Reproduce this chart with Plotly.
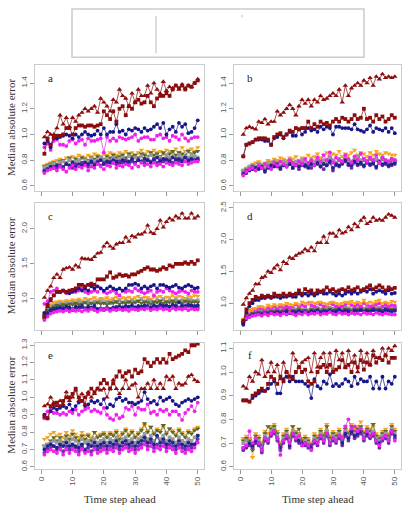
import plotly.graph_objects as go

# ---------------- data ----------------
tick_steps = [0, 10, 20, 30, 40, 50]

# Panel a
a_tri = [0.98,1.02,1.00,1.00,1.05,1.15,1.08,1.13,1.06,1.13,1.10,1.15,1.17,1.20,1.18,1.20,1.22,1.17,1.28,1.25,1.22,1.18,1.27,1.25,1.35,1.30,1.28,1.22,1.32,1.25,1.35,1.30,1.30,1.38,1.32,1.40,1.35,1.32,1.41,1.34,1.37,1.36,1.38,1.35,1.39,1.36,1.38,1.37,1.40,1.43]
a_sq = [0.85,0.97,0.92,0.98,0.99,0.99,1.00,1.05,1.05,1.00,1.05,1.07,1.07,1.06,1.07,1.07,1.06,1.07,1.08,1.18,1.15,1.12,1.18,1.10,1.20,1.22,1.15,1.22,1.20,1.25,1.27,1.24,1.25,1.30,1.25,1.22,1.28,1.30,1.30,1.32,1.30,1.35,1.38,1.36,1.38,1.35,1.38,1.37,1.40,1.42]
a_navy = [0.93,0.95,0.90,0.97,0.97,0.98,0.99,1.00,0.99,0.97,1.00,0.98,1.00,1.02,1.00,0.99,1.00,1.03,1.00,1.05,1.00,1.02,1.02,1.08,1.02,1.03,1.00,1.04,1.03,1.05,1.04,1.02,1.05,1.03,1.04,1.06,1.08,1.05,1.09,1.00,1.04,1.06,1.02,1.09,1.06,1.08,1.01,1.02,1.05,1.11]
a_mag = [0.90,0.93,0.88,0.95,0.96,0.92,0.92,0.91,0.95,0.96,0.93,0.95,0.96,0.92,0.97,0.95,0.95,0.96,0.97,0.86,0.98,0.95,0.97,0.95,0.98,0.97,0.96,0.97,0.98,1.00,0.95,0.97,0.98,0.98,0.96,0.96,0.99,1.00,0.97,0.98,0.95,0.99,0.98,0.96,1.00,0.97,0.95,0.97,0.98,0.98]
a_orange = [0.76,0.77,0.78,0.79,0.80,0.81,0.80,0.82,0.81,0.83,0.82,0.84,0.83,0.82,0.84,0.83,0.85,0.84,0.83,0.85,0.84,0.86,0.85,0.84,0.86,0.85,0.87,0.85,0.86,0.84,0.86,0.88,0.85,0.87,0.86,0.88,0.86,0.87,0.85,0.88,0.87,0.86,0.89,0.86,0.90,0.87,0.88,0.89,0.87,0.90]
a_olive = [0.75,0.76,0.77,0.78,0.77,0.79,0.80,0.78,0.82,0.79,0.81,0.80,0.82,0.81,0.80,0.82,0.81,0.83,0.82,0.81,0.83,0.82,0.84,0.82,0.83,0.84,0.82,0.85,0.83,0.84,0.82,0.85,0.84,0.83,0.86,0.84,0.85,0.83,0.86,0.84,0.85,0.87,0.84,0.86,0.85,0.84,0.87,0.85,0.86,0.87]
a_gray = [0.74,0.75,0.76,0.77,0.76,0.78,0.79,0.77,0.80,0.78,0.79,0.80,0.78,0.80,0.79,0.81,0.79,0.80,0.82,0.80,0.81,0.79,0.82,0.80,0.81,0.82,0.80,0.83,0.81,0.82,0.80,0.83,0.81,0.82,0.84,0.81,0.83,0.82,0.81,0.84,0.82,0.83,0.81,0.84,0.82,0.83,0.82,0.84,0.83,0.82]
a_purple = [0.72,0.73,0.74,0.75,0.74,0.76,0.75,0.77,0.76,0.74,0.77,0.76,0.78,0.77,0.75,0.78,0.77,0.79,0.76,0.78,0.77,0.79,0.78,0.77,0.79,0.78,0.80,0.77,0.79,0.78,0.80,0.79,0.78,0.80,0.79,0.81,0.78,0.80,0.79,0.81,0.80,0.78,0.81,0.79,0.80,0.82,0.79,0.81,0.80,0.80]
a_navy2 = [0.71,0.73,0.75,0.74,0.76,0.75,0.74,0.77,0.76,0.78,0.75,0.77,0.76,0.78,0.77,0.79,0.76,0.78,0.80,0.77,0.79,0.78,0.80,0.79,0.77,0.80,0.78,0.79,0.81,0.78,0.80,0.79,0.81,0.80,0.78,0.80,0.82,0.79,0.81,0.80,0.79,0.82,0.80,0.81,0.79,0.82,0.80,0.81,0.80,0.81]
a_mag2 = [0.70,0.72,0.73,0.74,0.72,0.75,0.73,0.71,0.74,0.76,0.73,0.75,0.74,0.76,0.72,0.75,0.74,0.77,0.75,0.73,0.76,0.75,0.78,0.74,0.76,0.75,0.77,0.76,0.74,0.77,0.75,0.78,0.76,0.77,0.75,0.78,0.76,0.77,0.75,0.78,0.77,0.76,0.78,0.77,0.76,0.79,0.77,0.78,0.79,0.79]

# Panel b
b_tri = [1.00,1.05,1.06,1.05,1.04,1.10,1.09,1.12,1.08,1.10,1.10,1.18,1.15,1.17,1.20,1.23,1.20,1.15,1.22,1.27,1.24,1.27,1.22,1.27,1.25,1.30,1.27,1.28,1.30,1.32,1.30,1.35,1.25,1.38,1.30,1.36,1.38,1.40,1.38,1.42,1.40,1.44,1.38,1.45,1.43,1.47,1.44,1.45,1.44,1.45]
b_sq = [0.83,0.92,0.93,0.94,0.96,0.97,0.97,0.97,0.96,0.92,0.98,1.00,1.01,0.98,1.00,1.03,1.02,1.05,1.04,1.05,1.05,1.10,1.05,1.08,1.06,1.10,1.08,1.09,1.07,1.10,1.12,1.10,1.13,1.12,1.10,1.12,1.15,1.12,1.13,1.20,1.12,1.13,1.10,1.15,1.12,1.14,1.10,1.12,1.15,1.13]
b_navy = [0.83,0.92,0.93,0.94,0.96,0.96,0.96,0.95,0.95,0.92,0.97,0.98,1.00,0.97,1.00,1.02,0.99,0.99,1.04,1.00,1.02,1.05,1.03,1.04,1.02,1.06,1.04,1.06,1.05,1.00,1.06,1.06,1.05,1.05,1.05,1.04,1.08,1.04,1.03,1.02,1.04,1.07,1.02,1.05,1.04,1.03,1.05,1.02,1.05,1.01]
b_orange = [0.72,0.74,0.75,0.77,0.78,0.79,0.77,0.78,0.80,0.79,0.81,0.80,0.82,0.81,0.80,0.82,0.81,0.83,0.80,0.82,0.81,0.84,0.82,0.83,0.85,0.82,0.84,0.86,0.83,0.85,0.84,0.87,0.83,0.85,0.84,0.86,0.88,0.84,0.86,0.85,0.83,0.86,0.84,0.87,0.85,0.84,0.86,0.85,0.84,0.84]
b_mag = [0.68,0.71,0.73,0.74,0.72,0.76,0.74,0.77,0.75,0.73,0.78,0.76,0.79,0.77,0.75,0.80,0.78,0.76,0.79,0.77,0.81,0.78,0.80,0.76,0.82,0.79,0.84,0.80,0.86,0.78,0.82,0.80,0.79,0.84,0.81,0.78,0.83,0.80,0.85,0.81,0.79,0.82,0.80,0.84,0.78,0.82,0.80,0.79,0.81,0.80]
b_gray = [0.72,0.73,0.75,0.76,0.75,0.77,0.76,0.74,0.78,0.77,0.79,0.78,0.76,0.79,0.78,0.80,0.77,0.79,0.78,0.80,0.79,0.77,0.80,0.79,0.81,0.78,0.80,0.79,0.82,0.80,0.78,0.81,0.79,0.82,0.80,0.79,0.81,0.83,0.80,0.81,0.79,0.82,0.80,0.81,0.79,0.82,0.80,0.79,0.81,0.80]
b_olive = [0.71,0.73,0.74,0.76,0.75,0.77,0.75,0.73,0.77,0.76,0.78,0.77,0.75,0.78,0.77,0.79,0.76,0.78,0.77,0.79,0.78,0.76,0.79,0.78,0.80,0.77,0.79,0.78,0.81,0.79,0.77,0.80,0.78,0.81,0.79,0.78,0.80,0.82,0.79,0.80,0.78,0.81,0.79,0.80,0.78,0.81,0.79,0.78,0.80,0.79]
b_navy2 = [0.69,0.70,0.72,0.73,0.74,0.73,0.75,0.71,0.74,0.76,0.75,0.77,0.74,0.76,0.75,0.77,0.74,0.76,0.75,0.77,0.76,0.74,0.77,0.76,0.78,0.75,0.77,0.76,0.79,0.74,0.77,0.76,0.78,0.80,0.77,0.76,0.79,0.77,0.78,0.76,0.79,0.77,0.78,0.75,0.79,0.77,0.78,0.76,0.77,0.78]
b_purple = [0.70,0.72,0.73,0.75,0.73,0.75,0.74,0.72,0.75,0.74,0.76,0.75,0.73,0.76,0.75,0.77,0.74,0.76,0.73,0.76,0.75,0.77,0.74,0.76,0.77,0.75,0.73,0.76,0.78,0.72,0.76,0.75,0.77,0.79,0.76,0.74,0.78,0.76,0.77,0.75,0.78,0.76,0.77,0.74,0.78,0.76,0.77,0.75,0.76,0.77]

# Panel c
c_tri = [1.02,1.12,1.18,1.30,1.35,1.30,1.42,1.44,1.45,1.42,1.48,1.45,1.58,1.57,1.57,1.56,1.60,1.65,1.66,1.75,1.80,1.75,1.72,1.78,1.80,1.80,1.88,1.82,1.90,1.88,1.92,1.92,1.95,2.05,1.95,1.93,2.00,2.12,2.02,2.10,2.15,2.12,2.18,2.15,2.22,2.15,2.15,2.22,2.15,2.18]
c_sq = [0.75,0.90,0.98,1.05,1.10,1.10,1.12,1.10,1.12,1.13,1.15,1.20,1.20,1.18,1.20,1.22,1.20,1.28,1.28,1.28,1.32,1.38,1.30,1.32,1.35,1.33,1.34,1.32,1.35,1.35,1.38,1.40,1.43,1.45,1.42,1.42,1.40,1.42,1.45,1.43,1.48,1.46,1.50,1.50,1.50,1.52,1.50,1.53,1.50,1.55]
c_navy = [0.80,0.92,1.00,1.05,1.10,1.10,1.12,1.10,1.08,1.10,1.12,1.15,1.12,1.15,1.12,1.18,1.15,1.18,1.15,1.12,1.15,1.18,1.15,1.13,1.15,1.12,1.15,1.20,1.20,1.22,1.20,1.15,1.18,1.15,1.18,1.20,1.15,1.20,1.20,1.18,1.16,1.18,1.20,1.16,1.15,1.18,1.20,1.18,1.15,1.16]
c_mag = [0.93,0.97,1.10,1.12,1.15,1.10,1.12,1.08,1.10,1.12,1.10,1.12,1.15,1.10,1.08,1.10,1.12,1.10,1.15,1.10,1.08,1.10,1.12,1.08,1.05,1.12,1.10,1.12,1.10,1.15,1.12,1.10,1.08,1.10,1.12,1.05,1.10,1.12,1.10,1.15,1.12,1.10,1.08,1.10,1.12,1.10,1.08,1.12,1.10,1.10]
c_orange = [0.80,0.88,0.92,0.95,0.96,0.97,0.96,0.98,0.97,0.99,0.98,1.00,0.98,1.01,0.99,1.00,1.02,0.99,1.01,1.00,1.02,0.99,1.01,1.03,1.00,1.02,1.01,1.03,1.00,1.02,1.04,1.01,1.03,1.02,1.00,1.03,1.02,1.04,1.01,1.03,1.02,1.05,1.02,1.04,1.03,1.01,1.04,1.03,1.05,1.04]
c_gray = [0.78,0.85,0.88,0.90,0.92,0.93,0.92,0.94,0.93,0.95,0.94,0.96,0.94,0.95,0.97,0.94,0.96,0.95,0.97,0.95,0.96,0.94,0.97,0.96,0.98,0.95,0.97,0.96,0.98,0.96,0.97,0.99,0.96,0.98,0.97,0.95,0.98,0.97,0.99,0.96,0.98,0.97,0.99,0.97,0.98,0.96,0.99,0.98,0.97,0.98]
c_olive = [0.76,0.84,0.87,0.89,0.91,0.90,0.92,0.91,0.93,0.92,0.94,0.92,0.93,0.95,0.92,0.94,0.93,0.95,0.93,0.94,0.92,0.95,0.94,0.96,0.93,0.95,0.94,0.96,0.94,0.95,0.97,0.94,0.96,0.95,0.93,0.96,0.95,0.97,0.94,0.96,0.95,0.97,0.95,0.96,0.94,0.97,0.96,0.95,0.96,0.95]
c_navy2 = [0.74,0.80,0.84,0.86,0.87,0.88,0.87,0.89,0.88,0.86,0.89,0.88,0.90,0.87,0.89,0.88,0.90,0.86,0.85,0.84,0.86,0.85,0.88,0.87,0.89,0.88,0.90,0.89,0.91,0.88,0.90,0.89,0.91,0.90,0.88,0.91,0.89,0.92,0.90,0.91,0.89,0.92,0.90,0.95,0.91,0.90,0.92,0.91,0.90,0.91]
c_purple = [0.72,0.78,0.82,0.84,0.85,0.86,0.85,0.87,0.86,0.84,0.87,0.86,0.88,0.85,0.87,0.86,0.88,0.85,0.87,0.86,0.88,0.86,0.87,0.89,0.86,0.88,0.87,0.89,0.86,0.88,0.87,0.89,0.87,0.88,0.86,0.89,0.87,0.88,0.90,0.87,0.89,0.88,0.90,0.88,0.89,0.87,0.90,0.88,0.89,0.88]
c_mag2 = [0.70,0.75,0.79,0.81,0.82,0.83,0.82,0.84,0.82,0.85,0.83,0.84,0.82,0.85,0.83,0.86,0.84,0.82,0.85,0.84,0.86,0.83,0.85,0.84,0.86,0.84,0.85,0.83,0.86,0.85,0.84,0.86,0.85,0.87,0.84,0.86,0.85,0.87,0.85,0.86,0.84,0.87,0.85,0.86,0.85,0.87,0.84,0.86,0.85,0.85]

# Panel d
d_tri = [0.98,1.08,1.15,1.20,1.30,1.30,1.40,1.42,1.50,1.48,1.55,1.60,1.52,1.65,1.62,1.72,1.70,1.75,1.78,1.80,1.85,1.82,1.88,1.82,1.95,1.95,2.05,1.95,2.10,2.10,2.05,2.15,2.10,2.12,2.20,2.15,2.25,2.20,2.30,2.35,2.25,2.28,2.35,2.30,2.32,2.30,2.35,2.40,2.38,2.35]
d_sq = [0.72,0.90,1.00,1.05,1.10,1.08,1.12,1.10,1.12,1.10,1.15,1.12,1.12,1.15,1.12,1.15,1.13,1.15,1.20,1.15,1.22,1.18,1.20,1.15,1.20,1.18,1.20,1.25,1.20,1.22,1.18,1.20,1.22,1.20,1.25,1.20,1.22,1.25,1.20,1.22,1.25,1.28,1.22,1.25,1.28,1.25,1.20,1.25,1.22,1.24]
d_navy = [0.68,0.85,0.95,1.00,1.05,1.05,1.08,1.08,1.10,1.08,1.10,1.10,1.08,1.10,1.10,1.12,1.10,1.10,1.15,1.12,1.15,1.12,1.15,1.12,1.15,1.18,1.15,1.15,1.18,1.15,1.12,1.15,1.12,1.15,1.18,1.15,1.18,1.15,1.18,1.20,1.18,1.22,1.15,1.18,1.20,1.18,1.15,1.20,1.15,1.16]
d_orange = [0.75,0.85,0.88,0.90,0.92,0.95,0.95,0.93,0.97,0.95,0.98,0.96,0.98,0.97,1.00,0.98,0.97,1.00,0.98,1.02,1.00,0.99,1.02,1.00,1.00,1.02,1.00,0.98,1.00,1.02,1.00,0.98,1.00,1.02,1.00,1.03,1.00,1.02,1.00,1.05,1.00,1.02,1.00,1.03,1.05,1.00,1.02,1.00,1.03,1.02]
d_mag = [0.72,0.82,0.88,0.90,0.90,0.92,0.92,0.90,0.93,0.92,0.95,0.92,0.95,0.93,0.95,0.93,0.95,0.98,0.95,0.97,0.95,1.00,0.97,0.95,1.00,0.98,0.95,0.97,1.00,0.98,0.95,0.97,0.95,0.98,1.00,0.97,0.95,0.98,0.95,1.00,0.98,0.95,0.97,0.98,1.00,0.95,0.98,0.95,0.97,0.96]
d_gray = [0.72,0.80,0.84,0.86,0.87,0.88,0.87,0.89,0.88,0.90,0.89,0.91,0.89,0.90,0.92,0.89,0.91,0.90,0.92,0.90,0.91,0.89,0.92,0.91,0.93,0.90,0.92,0.91,0.93,0.91,0.92,0.94,0.91,0.93,0.92,0.90,0.93,0.92,0.94,0.91,0.93,0.92,0.94,0.92,0.93,0.91,0.94,0.93,0.92,0.93]
d_olive = [0.70,0.79,0.82,0.84,0.85,0.86,0.85,0.87,0.86,0.88,0.87,0.89,0.87,0.88,0.90,0.87,0.89,0.88,0.90,0.88,0.89,0.87,0.90,0.89,0.91,0.88,0.90,0.89,0.91,0.89,0.90,0.92,0.89,0.91,0.90,0.88,0.91,0.90,0.92,0.89,0.91,0.90,0.92,0.90,0.91,0.89,0.92,0.91,0.90,0.91]
d_navy2 = [0.66,0.75,0.79,0.81,0.82,0.83,0.82,0.84,0.83,0.85,0.84,0.86,0.84,0.85,0.87,0.84,0.86,0.85,0.87,0.85,0.86,0.84,0.87,0.86,0.88,0.85,0.87,0.86,0.88,0.86,0.87,0.89,0.86,0.88,0.87,0.85,0.88,0.87,0.89,0.86,0.88,0.87,0.89,0.87,0.88,0.86,0.89,0.88,0.87,0.88]
d_purple = [0.68,0.77,0.80,0.82,0.83,0.84,0.83,0.85,0.84,0.86,0.85,0.87,0.85,0.86,0.88,0.85,0.87,0.86,0.88,0.86,0.87,0.85,0.88,0.87,0.89,0.86,0.88,0.87,0.89,0.87,0.88,0.90,0.87,0.89,0.88,0.86,0.89,0.88,0.90,0.87,0.89,0.88,0.90,0.88,0.89,0.87,0.90,0.89,0.88,0.89]
d_mag2 = [0.70,0.76,0.78,0.80,0.81,0.82,0.80,0.83,0.81,0.84,0.82,0.83,0.81,0.84,0.82,0.85,0.83,0.81,0.84,0.82,0.85,0.82,0.84,0.83,0.85,0.82,0.84,0.83,0.86,0.83,0.82,0.85,0.83,0.84,0.82,0.85,0.83,0.84,0.82,0.85,0.83,0.84,0.82,0.85,0.83,0.82,0.84,0.83,0.82,0.82]

# Panel e
e_sq = [0.89,0.88,0.95,0.96,0.97,0.95,0.98,1.00,1.00,1.02,1.05,1.00,0.98,1.00,1.02,1.05,1.03,1.05,1.08,1.10,1.08,1.05,1.08,1.12,1.15,1.12,1.14,1.15,1.12,1.16,1.14,1.15,1.22,1.20,1.18,1.20,1.22,1.20,1.22,1.20,1.25,1.22,1.23,1.24,1.25,1.27,1.26,1.30,1.30,1.31]
e_tri = [0.95,0.96,1.00,0.97,0.95,0.98,0.96,1.03,0.98,1.00,1.04,0.98,1.02,0.96,1.03,1.00,1.02,1.05,1.04,1.05,1.00,1.05,1.10,1.05,1.02,1.05,1.10,1.05,1.07,1.08,1.00,1.05,1.05,1.08,1.05,1.10,1.05,1.08,1.05,1.12,1.10,1.12,1.05,1.08,1.07,1.08,1.12,1.13,1.10,1.09]
e_navy = [0.90,0.88,0.92,0.94,0.93,0.94,0.95,0.94,0.96,0.93,0.95,0.97,0.98,0.95,0.96,0.98,0.97,0.98,0.96,0.99,0.94,0.96,0.95,0.99,1.00,0.98,0.99,0.97,0.97,0.96,0.97,0.98,1.03,0.99,0.97,0.98,0.96,1.00,0.98,0.99,1.00,0.98,0.96,0.95,0.97,0.98,0.99,0.98,0.99,1.00]
e_mag = [0.88,0.92,0.93,0.91,0.91,0.90,0.91,0.90,0.92,0.91,0.93,0.90,0.92,0.93,0.94,0.92,0.93,0.92,0.91,0.94,0.90,0.88,0.87,0.90,0.88,0.89,0.94,0.93,0.95,0.90,0.94,0.93,0.93,0.96,0.91,0.92,0.90,0.93,0.92,0.93,0.90,0.92,0.92,0.90,0.87,0.91,0.93,0.95,0.92,0.97]
e_orange = [0.76,0.77,0.79,0.80,0.78,0.79,0.77,0.80,0.78,0.81,0.79,0.77,0.80,0.78,0.79,0.77,0.80,0.78,0.79,0.80,0.78,0.80,0.79,0.81,0.78,0.80,0.82,0.79,0.81,0.78,0.80,0.82,0.84,0.81,0.83,0.80,0.82,0.81,0.83,0.80,0.82,0.81,0.79,0.82,0.80,0.78,0.81,0.80,0.82,0.83]
e_olive = [0.72,0.73,0.75,0.77,0.75,0.77,0.74,0.78,0.76,0.79,0.77,0.75,0.78,0.76,0.78,0.75,0.80,0.77,0.78,0.79,0.77,0.79,0.78,0.80,0.76,0.79,0.81,0.78,0.80,0.77,0.79,0.81,0.85,0.80,0.83,0.79,0.81,0.80,0.84,0.79,0.82,0.80,0.78,0.81,0.79,0.77,0.80,0.79,0.81,0.82]
e_gray = [0.72,0.73,0.74,0.75,0.74,0.75,0.73,0.76,0.74,0.76,0.75,0.73,0.76,0.74,0.75,0.73,0.76,0.74,0.75,0.76,0.74,0.76,0.75,0.77,0.74,0.76,0.77,0.75,0.76,0.74,0.76,0.77,0.79,0.76,0.78,0.75,0.77,0.76,0.78,0.75,0.77,0.76,0.74,0.77,0.75,0.74,0.76,0.75,0.77,0.78]
e_navy2 = [0.70,0.72,0.73,0.72,0.71,0.73,0.72,0.74,0.72,0.73,0.72,0.71,0.73,0.69,0.73,0.72,0.74,0.72,0.73,0.74,0.72,0.74,0.73,0.75,0.72,0.74,0.75,0.73,0.74,0.72,0.74,0.75,0.77,0.74,0.76,0.73,0.78,0.74,0.76,0.73,0.75,0.74,0.72,0.75,0.73,0.72,0.74,0.73,0.73,0.78]
e_purple = [0.68,0.70,0.71,0.72,0.70,0.71,0.69,0.72,0.70,0.72,0.71,0.69,0.72,0.70,0.71,0.69,0.72,0.70,0.71,0.72,0.70,0.72,0.71,0.73,0.70,0.72,0.73,0.71,0.72,0.70,0.72,0.73,0.75,0.72,0.74,0.71,0.73,0.72,0.74,0.71,0.73,0.72,0.70,0.73,0.71,0.70,0.72,0.71,0.73,0.76]
e_mag2 = [0.67,0.69,0.70,0.69,0.68,0.70,0.67,0.70,0.68,0.70,0.69,0.67,0.70,0.68,0.69,0.67,0.70,0.68,0.69,0.70,0.68,0.70,0.69,0.71,0.68,0.70,0.71,0.69,0.70,0.68,0.70,0.71,0.73,0.70,0.72,0.69,0.71,0.70,0.72,0.69,0.71,0.70,0.68,0.71,0.69,0.68,0.70,0.69,0.71,0.74]

# Panel f
f_tri = [0.94,0.93,0.98,0.96,1.00,0.99,1.05,0.98,1.00,1.04,1.00,1.03,0.97,1.04,1.00,0.98,1.08,1.05,1.02,1.04,1.05,1.06,1.00,1.08,1.02,1.06,1.08,1.02,1.08,1.00,1.09,1.05,1.08,1.02,1.09,1.04,1.07,1.00,1.09,1.04,1.08,1.03,1.09,1.06,1.06,1.10,1.07,1.10,1.09,1.11]
f_sq = [0.88,0.88,0.875,0.90,0.91,0.92,0.93,0.92,0.95,0.98,0.97,0.95,0.98,0.96,1.00,0.98,0.97,1.00,1.02,1.00,1.01,0.96,0.95,0.96,1.00,1.02,1.03,1.00,1.03,1.00,1.01,1.02,1.05,1.02,1.03,1.00,1.04,1.02,1.05,1.01,1.04,1.03,1.07,1.04,1.06,1.05,1.07,1.04,1.06,1.06]
f_navy = [0.88,0.88,0.875,0.89,0.90,0.91,0.92,0.92,0.93,0.95,0.96,0.91,0.91,0.97,0.98,0.96,0.98,0.96,0.96,0.96,0.95,0.94,0.89,0.97,0.94,0.93,0.96,0.95,0.99,0.94,0.95,0.94,0.95,0.97,0.96,0.94,0.98,0.95,0.97,0.96,0.96,0.98,0.93,0.96,0.93,0.98,0.93,0.96,0.95,0.98]
f_orange = [0.72,0.73,0.72,0.64,0.74,0.73,0.70,0.75,0.74,0.77,0.78,0.75,0.70,0.74,0.76,0.73,0.77,0.75,0.74,0.72,0.73,0.72,0.70,0.74,0.73,0.76,0.74,0.78,0.73,0.75,0.74,0.76,0.73,0.77,0.75,0.78,0.76,0.77,0.79,0.75,0.77,0.76,0.77,0.74,0.73,0.75,0.76,0.74,0.78,0.76]
f_olive = [0.71,0.72,0.71,0.67,0.73,0.72,0.69,0.74,0.77,0.76,0.77,0.74,0.69,0.73,0.75,0.72,0.77,0.74,0.76,0.71,0.72,0.71,0.69,0.73,0.72,0.75,0.73,0.77,0.72,0.74,0.73,0.75,0.72,0.76,0.74,0.77,0.75,0.76,0.77,0.74,0.76,0.75,0.78,0.73,0.72,0.74,0.75,0.73,0.77,0.75]
f_gray = [0.70,0.71,0.70,0.68,0.72,0.71,0.68,0.73,0.72,0.75,0.76,0.73,0.68,0.72,0.74,0.71,0.75,0.73,0.72,0.70,0.71,0.70,0.68,0.72,0.71,0.74,0.72,0.75,0.71,0.73,0.72,0.74,0.71,0.75,0.73,0.76,0.74,0.75,0.76,0.73,0.75,0.74,0.75,0.72,0.71,0.73,0.74,0.72,0.76,0.74]
f_mag = [0.68,0.69,0.75,0.70,0.72,0.70,0.67,0.72,0.71,0.74,0.75,0.72,0.65,0.71,0.73,0.70,0.74,0.72,0.73,0.69,0.70,0.69,0.67,0.71,0.70,0.73,0.71,0.74,0.70,0.72,0.71,0.73,0.72,0.77,0.80,0.76,0.77,0.75,0.76,0.72,0.75,0.73,0.74,0.71,0.69,0.72,0.73,0.71,0.75,0.71]
f_navy2 = [0.68,0.69,0.70,0.69,0.71,0.70,0.67,0.72,0.71,0.74,0.75,0.72,0.68,0.71,0.73,0.69,0.74,0.72,0.71,0.70,0.70,0.69,0.68,0.71,0.70,0.73,0.71,0.74,0.70,0.72,0.71,0.73,0.70,0.74,0.72,0.75,0.73,0.74,0.75,0.72,0.74,0.73,0.74,0.71,0.70,0.72,0.73,0.71,0.75,0.73]
f_purple = [0.67,0.68,0.69,0.68,0.70,0.69,0.66,0.71,0.70,0.73,0.74,0.71,0.67,0.70,0.72,0.68,0.73,0.71,0.70,0.69,0.69,0.68,0.69,0.70,0.69,0.72,0.70,0.73,0.69,0.71,0.70,0.72,0.69,0.73,0.71,0.74,0.72,0.73,0.74,0.71,0.73,0.72,0.73,0.70,0.68,0.71,0.72,0.70,0.74,0.72]

y_ticks = {
    "a": [0.6, 0.8, 1.0, 1.2, 1.4],
    "b": [0.6, 0.8, 1.0, 1.2, 1.4],
    "c": [1.0, 1.5, 2.0],
    "d": [1.0, 1.5, 2.0, 2.5],
    "e": [0.6, 0.7, 0.8, 0.9, 1.0, 1.1, 1.2, 1.3],
    "f": [0.6, 0.7, 0.8, 0.9, 1.0, 1.1],
}

# ---------------- styling ----------------
W, H = 405, 511
def px(x): return x / W
def py(y): return 1 - y / H

STY = {
    "tri": ("#8b0d0d", "triangle-up", 4.8),
    "sq": ("#8b0d0d", "square", 3.8),
    "navy": ("#16168a", "circle", 3.8),
    "mag": ("#f020f0", "circle", 3.8),
    "mag2": ("#f020f0", "circle", 3.8),
    "orange": ("#f5a623", "triangle-down", 4.8),
    "olive": ("#56682e", "triangle-down", 4.8),
    "gray": ("#9a9a9a", "square", 3.8),
    "purple": ("#6b2fa8", "circle", 3.8),
    "navy2": ("#22228f", "circle", 3.8),
}

panels = [
    ("a", [("orange", a_orange), ("olive", a_olive), ("gray", a_gray), ("purple", a_purple), ("navy2", a_navy2), ("mag2", a_mag2),
           ("mag", a_mag), ("navy", a_navy), ("sq", a_sq), ("tri", a_tri)], [0.56, 1.54]),
    ("b", [("orange", b_orange), ("olive", b_olive), ("gray", b_gray), ("purple", b_purple), ("navy2", b_navy2), ("mag", b_mag),
           ("navy", b_navy), ("sq", b_sq), ("tri", b_tri)], [0.56, 1.54]),
    ("c", [("orange", c_orange), ("gray", c_gray), ("olive", c_olive), ("purple", c_purple), ("navy2", c_navy2), ("mag2", c_mag2),
           ("mag", c_mag), ("navy", c_navy), ("sq", c_sq), ("tri", c_tri)], [0.56, 2.37]),
    ("d", [("gray", d_gray), ("olive", d_olive), ("purple", d_purple), ("navy2", d_navy2), ("mag2", d_mag2), ("mag", d_mag),
           ("orange", d_orange), ("navy", d_navy), ("sq", d_sq), ("tri", d_tri)], [0.58, 2.58]),
    ("e", [("orange", e_orange), ("olive", e_olive), ("gray", e_gray), ("purple", e_purple), ("navy2", e_navy2), ("mag2", e_mag2),
           ("mag", e_mag), ("navy", e_navy), ("tri", e_tri), ("sq", e_sq)], [0.59, 1.315]),
    ("f", [("orange", f_orange), ("olive", f_olive), ("gray", f_gray), ("purple", f_purple), ("navy2", f_navy2), ("mag", f_mag),
           ("navy", f_navy), ("sq", f_sq), ("tri", f_tri)], [0.592, 1.124]),
]

col_x = [(35, 204), (234, 401)]
row_y = [(61, 189), (201, 330), (343, 471)]

fig = go.Figure()
layout = {}
annotations = []
tick_font = dict(family="Liberation Sans, Arial, sans-serif", size=8, color="#555555")

for i, (letter, series, yr) in enumerate(panels):
    r, c = divmod(i, 2)
    n = i + 1
    xa = "x" if n == 1 else f"x{n}"
    ya = "y" if n == 1 else f"y{n}"
    for key, vals in series:
        col, sym, sz = STY[key]
        fig.add_trace(go.Scatter(
            x=list(range(1, len(vals) + 1)), y=vals, xaxis=xa, yaxis=ya,
            mode="lines+markers",
            line=dict(color=col, width=0.7),
            marker=dict(color=col, symbol=sym, size=sz, line=dict(width=0)),
            showlegend=False, hoverinfo="skip"))
    x0, x1 = col_x[c]
    y0, y1 = row_y[r]
    bottom = (r == 2)
    layout["xaxis" if n == 1 else f"xaxis{n}"] = dict(
        domain=[px(x0), px(x1)], anchor=ya, range=[-2, 52],
        tickvals=tick_steps, ticktext=[str(t) for t in tick_steps],
        showticklabels=bottom, tickangle=-90, ticks="outside", ticklen=4,
        tickcolor="#999999", tickfont=tick_font,
        showline=True, mirror=True, linecolor="#cccccc", linewidth=1,
        showgrid=False, zeroline=False)
    layout["yaxis" if n == 1 else f"yaxis{n}"] = dict(
        domain=[py(y1), py(y0)], anchor=xa, range=yr,
        tickvals=y_ticks[letter], ticktext=[f"{t:.1f}" for t in y_ticks[letter]],
        tickangle=-90, ticks="outside", ticklen=4, tickcolor="#999999",
        tickfont=tick_font, showline=True, mirror=True, linecolor="#cccccc",
        linewidth=1, showgrid=False, zeroline=False)
    annotations.append(dict(
        x=px(x0 + 16), y=py(y0 + 13), xref="paper", yref="paper",
        text=letter, showarrow=False, xanchor="center", yanchor="middle",
        font=dict(family="Liberation Serif, Times New Roman, serif", size=11, color="#222222")))

title_font = dict(family="Liberation Serif, Times New Roman, serif", size=11, color="#333333")
for (y0, y1) in row_y:
    annotations.append(dict(
        x=px(11), y=py((y0 + y1) / 2), xref="paper", yref="paper",
        text="Median absolute error", textangle=-90, showarrow=False,
        xanchor="center", yanchor="middle", font=title_font))
for (x0, x1) in col_x:
    annotations.append(dict(
        x=px((x0 + x1) / 2), y=py(502), xref="paper", yref="paper",
        text="Time step ahead", showarrow=False,
        xanchor="center", yanchor="middle", font=title_font))

shapes = [
    dict(type="rect", xref="paper", yref="paper", x0=px(72), x1=px(364), y0=py(53), y1=py(4),
         line=dict(color="#cccccc", width=1.5), fillcolor="rgba(0,0,0,0)"),
    dict(type="line", xref="paper", yref="paper", x0=px(156), x1=px(156), y0=py(49), y1=py(11),
         line=dict(color="#bbbbbb", width=1)),
    dict(type="line", xref="paper", yref="paper", x0=px(242), x1=px(242), y0=py(12.5), y1=py(10),
         line=dict(color="#bbbbbb", width=1)),
]

fig.update_layout(
    width=W, height=H, margin=dict(l=0, r=0, t=0, b=0),
    paper_bgcolor="white", plot_bgcolor="white",
    annotations=annotations, shapes=shapes, **layout)

fig.write_html("out.html")
